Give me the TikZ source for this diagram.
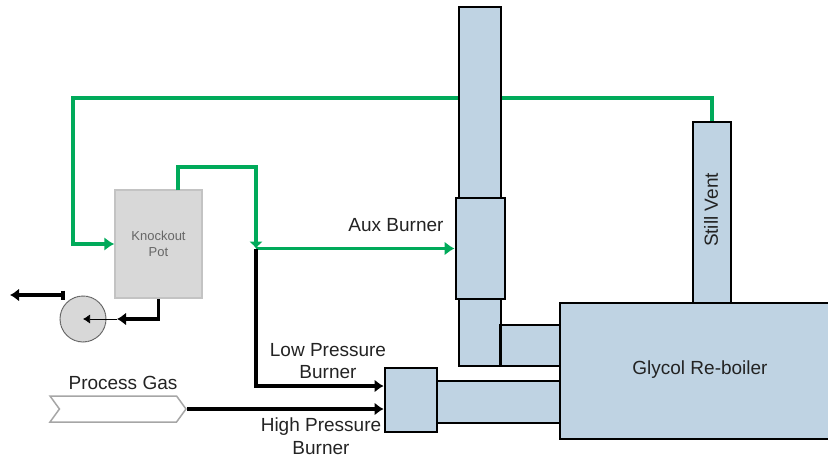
\documentclass[tikz,border=0pt]{standalone}
\usepackage{fontspec}
\setmainfont{Liberation Sans}
\usepackage{xcolor}
\usetikzlibrary{shapes,arrows.meta,positioning,calc}
\definecolor{vesselblue}{RGB}{191,211,227}
\definecolor{pipegreen}{RGB}{0,170,90}
\definecolor{potgray}{RGB}{216,216,216}
\definecolor{potedge}{RGB}{195,195,195}
\definecolor{labeldark}{RGB}{35,35,35}
\tikzset{
  vessel/.style={fill=vesselblue, draw=black, line width=2.8pt, inner sep=0pt, anchor=center},
  greenpipe/.style={draw=pipegreen, line width=3.8pt},
  blackpipe/.style={draw=black, line width=3.8pt},
  label/.style={text=labeldark, font=\fontsize{19}{22.5}\selectfont, align=center, inner sep=0pt},
}
\begin{document}
\begin{tikzpicture}[x=1pt,y=-1pt]
\useasboundingbox (0,0) rectangle (828,460);
% vessels
\node[vessel, minimum width=38pt, minimum height=181pt] (vent) at (712,212.5) {};
\node[label, rotate=90] (ventlabel) at (711,210) {Still Vent};
\coordinate (ventturn) at (712,98);
\coordinate (potturn) at (73,98);
\node[fill=potgray, draw=potedge, line width=1.5pt, minimum width=87pt, minimum height=108pt, inner sep=0pt] (kpot) at (158.5,244) {};
\node[text=black!60, font=\fontsize{13}{16}\selectfont, align=center, inner sep=0pt] (kpotlabel) at (158.5,244) {Knockout\\Pot};
% green gas lines
\draw[greenpipe, -{Latex[length=10pt,width=14pt]}] (vent.north) -- (ventturn) -- (potturn) |- (kpot.west);
\node[vessel, minimum width=42pt, minimum height=359pt] (stack) at (480,186.5) {};
\node[vessel, minimum width=60pt, minimum height=41pt] (duct) at (530.5,345.5) {};
\node[vessel, minimum width=125pt, minimum height=42pt] (feedduct) at (498.5,402) {};
\node[vessel, minimum width=280pt, minimum height=136pt] (boiler) at (700,371) {};
\node[vessel, minimum width=49pt, minimum height=101pt] (aux) at (480.5,248.5) {};
\node[vessel, minimum width=52pt, minimum height=64pt] (burner) at (411,400) {};
\node[label] (boilerlabel) at (700,370) {Glycol Re-boiler};
\coordinate (potout) at (178,190);
\coordinate (potrise) at (178,167);
\coordinate (potrun) at (256,167);
\coordinate (tee) at (256,248.5);
\draw[greenpipe, -{Latex[length=7pt,width=14pt]}] (potout) -- (potrise) -- (potrun) -- (tee);
\draw[greenpipe, -{Latex[length=10pt,width=14pt]}] (tee) -- (aux.west);
% black lines
\coordinate (lowin) at (burner.west |- 0,386);
\coordinate (highin) at (burner.west |- 0,409);
\draw[blackpipe, -{Latex[length=9pt,width=13pt]}] (tee) |- (lowin);
\node[signal, signal to=east, signal from=west, signal pointer angle=108, fill=white, draw=black!35, line width=1.5pt, minimum width=136pt, minimum height=26pt, inner sep=0pt] (gas) at (118,409) {};
\draw[blackpipe, -{Latex[length=9pt,width=13pt]}] (gas.east) -- (highin);
\node[circle, fill=potgray, draw=black!60, line width=1pt, dash pattern=on 2pt off 0.4pt, minimum size=46pt, inner sep=0pt] (pump) at (83,319) {};
\coordinate (pumpin) at (117,319);
\coordinate (pumpout) at (65,295);
\coordinate (drain) at (10,295);
\draw[blackpipe, -{Latex[length=9pt,width=13pt]}] (kpot.south) |- (pumpin);
\draw[draw=black, line width=0.6pt, -{Latex[length=7pt,width=9pt]}] (pumpin) -- (pump.center);
\draw[blackpipe, {Bar[width=9pt,length=2pt]}-{Latex[length=9pt,width=13pt]}] (pumpout) -- (drain);
% labels
\node[label] (auxlabel) at (396,225) {Aux Burner};
\node[label] (lowlabel) at (328,361) {Low Pressure\\Burner};
\node[label] (highlabel) at (321,436) {High Pressure\\Burner};
\node[label] (gaslabel) at (123,383) {Process Gas};
\end{tikzpicture}
\end{document}
